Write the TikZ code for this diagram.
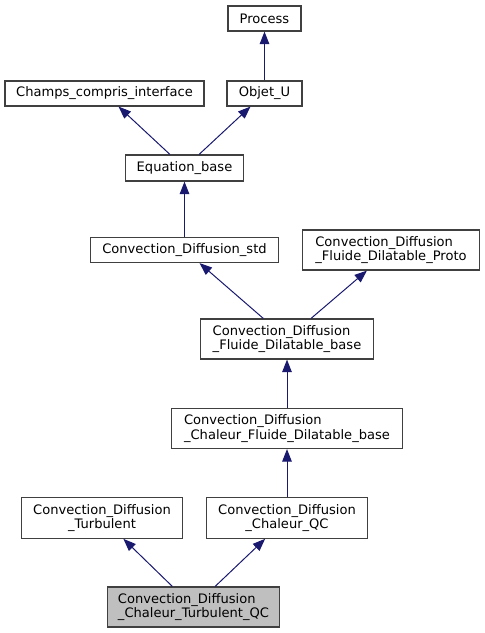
\documentclass[tikz,border=0pt]{standalone}
\usepackage{fontspec}
\setmainfont{DejaVu Sans}
\usetikzlibrary{arrows.meta}
\definecolor{edgeblue}{HTML}{191970}
\definecolor{boxline}{HTML}{404040}
\definecolor{hl}{HTML}{BFBFBF}
\tikzset{
  box/.style={draw=boxline, line width=0.85pt, fill=white, inner sep=0pt,
    minimum height=25*0.75pt, font=\fontsize{9.8}{10.75}\selectfont},
  twoline/.style={minimum height=40*0.75pt},
  arr/.style={draw=edgeblue, line width=0.75pt,
    -{Triangle[length=12.5*0.75pt,width=9.5*0.75pt,fill=edgeblue]}}
}
\begin{document}
\begin{tikzpicture}[x=0.75pt,y=-0.75pt]
\useasboundingbox (0,0) rectangle (485,633);
\node[box, minimum width=73*0.75pt] (proc) at (264.5,18.5) {Process};
\node[box, minimum width=199*0.75pt] (champs) at (104.5,93.5) {Champs\_compris\_interface};
\node[box, minimum width=75*0.75pt] (objet) at (264.5,93.5) {Objet\_U};
\node[box, minimum width=118*0.75pt, minimum height=26*0.75pt] (eb) at (184.5,168) {Equation\_base};
\node[box, minimum width=188*0.75pt] (std) at (184.5,250) {Convection\_Diffusion\_std};
\node[box, twoline, align=left, minimum width=176.5*0.75pt] (proto) at (391,250) {Convection\_Diffusion\\\_Fluide\_Dilatable\_Proto};
\node[box, twoline, align=left, minimum width=173.5*0.75pt] (fdb) at (287,339) {Convection\_Diffusion\\\_Fluide\_Dilatable\_base};
\node[box, twoline, align=left, minimum width=230.5*0.75pt] (cfdb) at (287,428.5) {Convection\_Diffusion\\\_Chaleur\_Fluide\_Dilatable\_base};
\node[box, twoline, align=center, minimum width=161.5*0.75pt, minimum height=40.5*0.75pt] (turb) at (102,518) {Convection\_Diffusion\\\_Turbulent};
\node[box, twoline, align=center, minimum width=161.5*0.75pt, minimum height=40.5*0.75pt] (cqc) at (287,518) {Convection\_Diffusion\\\_Chaleur\_QC};
\node[box, twoline, align=left, fill=hl, minimum width=172*0.75pt] (tqc) at (193.5,607) {Convection\_Diffusion\\\_Chaleur\_Turbulent\_QC};
\draw[arr] (objet) -- (proc);
\draw[arr] (eb) -- (champs);
\draw[arr] (eb) -- (objet);
\draw[arr] (std) -- (eb);
\draw[arr] (fdb) -- (std);
\draw[arr] (fdb) -- (proto);
\draw[arr] (cfdb) -- (fdb);
\draw[arr] (cqc) -- (cfdb);
\draw[arr] (tqc) -- (turb);
\draw[arr] (tqc) -- (cqc);
\end{tikzpicture}
\end{document}
